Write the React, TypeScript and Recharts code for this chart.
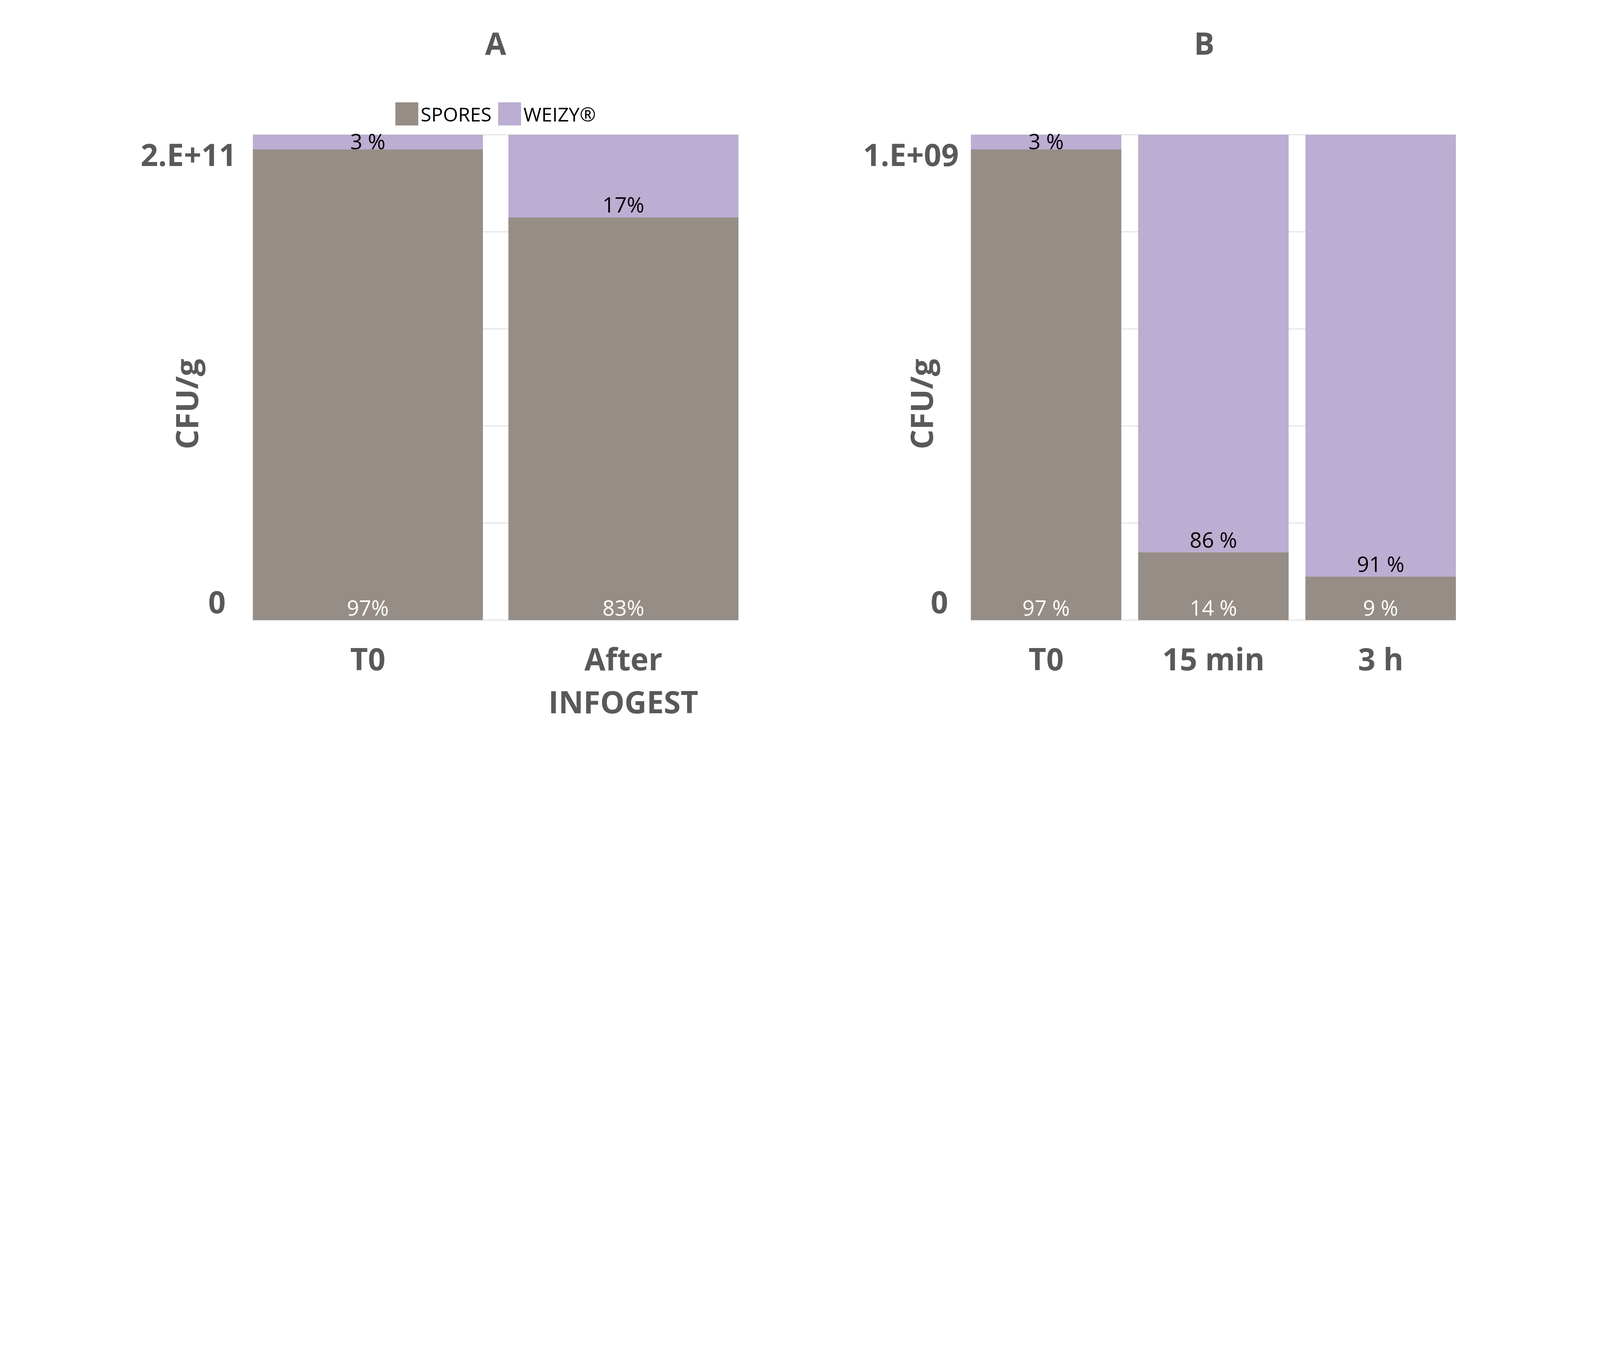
import { BarChart, Bar, XAxis, YAxis, CartesianGrid, Legend, LabelList } from 'recharts'

const seriesNames = ['SPORES', 'WEIZY®']
const seriesColors = ['#958D86', '#BCADD2']

// panel A
const categoriesA = ['T0', 'After INFOGEST']
const sporesA = [97, 83]
const weizyA = [3, 17]
const sporesLabelsA = ['97%', '83%']
const weizyLabelsA = ['3 %', '17%']
const yTickLabelsA = ['0', '2.E+11']

// panel B
const categoriesB = ['T0', '15 min', '3 h']
const sporesB = [97, 14, 9]
const weizyB = [3, 86, 91]
const sporesLabelsB = ['97 %', '14 %', '9 %']
const weizyLabelsB = ['3 %', '86 %', '91 %']
const yTickLabelsB = ['0', '1.E+09']

const gridTicks = [0, 20, 40, 60, 80, 100]

const FONT = "'Open Sans', sans-serif"
const AXIS_GREY = '#595959'

// design is laid out on a 6912 x 3456 canvas, then scaled to the window
const W = 6912
const H = 3456

function buildRows(cats: string[], spores: number[], weizy: number[], sl: string[], wl: string[]) {
  return cats.map((name, i) => ({
    name,
    spores: spores[i],
    weizy: weizy[i],
    sporesLabel: sl[i],
    weizyLabel: wl[i],
  }))
}

const dataA = buildRows(categoriesA, sporesA, weizyA, sporesLabelsA, weizyLabelsA)
const dataB = buildRows(categoriesB, sporesB, weizyB, sporesLabelsB, weizyLabelsB)

function insideBase(fill: string) {
  return (props: any) => {
    const x = Number(props.x)
    const y = Number(props.y)
    const w = Number(props.width)
    const h = Number(props.height)
    const baseline = h < 130 ? y + h / 2 + 32 : y + h - 20
    return (
      <text x={x + w / 2} y={baseline} textAnchor="middle" fill={fill}
        fontSize={92} fontFamily={FONT}>
        {props.value}
      </text>
    )
  }
}

function YTick(props: any) {
  const { x, y, payload, labels, pad } = props
  if (payload.value === 100) {
    return (
      <text x={x - pad - 16} y={y + 135} textAnchor="end" fill={AXIS_GREY}
        fontSize={132} fontWeight={700} fontFamily={FONT}>{labels[1]}</text>
    )
  }
  if (payload.value === 0) {
    return (
      <text x={x - pad - 62} y={y - 30} textAnchor="end" fill={AXIS_GREY}
        fontSize={132} fontWeight={700} fontFamily={FONT}>{labels[0]}</text>
    )
  }
  return <g />
}

function XTick(props: any) {
  const { x, y, payload, wrap } = props
  const lines: string[] = wrap ? String(payload.value).split(' ') : [String(payload.value)]
  return (
    <text textAnchor="middle" fill={AXIS_GREY} fontSize={132} fontWeight={700} fontFamily={FONT}>
      {lines.map((l, i) => (
        <tspan key={i} x={x} y={y + 216 + i * 187}>{l}</tspan>
      ))}
    </text>
  )
}

function AxisTitle(props: any) {
  const { viewBox, dx } = props
  const cx = viewBox.x + viewBox.width + dx
  const cy = viewBox.y + viewBox.height / 2 + 115
  return (
    <text x={cx} y={cy} transform={`rotate(-90, ${cx}, ${cy})`} textAnchor="middle"
      dominantBaseline="central" fill={AXIS_GREY} fontSize={134} fontWeight={700} fontFamily={FONT}>
      CFU/g
    </text>
  )
}

function renderLegend(props: any) {
  const { payload } = props
  return (
    <div style={{ display: 'flex', justifyContent: 'center', gap: 29, fontFamily: FONT }}>
      {payload.map((item: any) => (
        <div key={item.value} style={{ display: 'flex', alignItems: 'center' }}>
          <span style={{ display: 'inline-block', width: 99, height: 100, background: item.color }} />
          <span style={{ fontSize: 84, marginLeft: 10, color: '#000', lineHeight: '100px' }}>{item.value}</span>
        </div>
      ))}
    </div>
  )
}

interface PanelProps {
  data: any[]
  yLabels: string[]
  marginLeft: number
  marginRight: number
  edgePad: number
  titleDx: number
  wrapTicks: boolean
  legend: boolean
}

// the plot area runs from the outer edge of the first bar to the outer edge of the last,
// the band padding is pushed outside with a negative axis padding
function Panel({ data, yLabels, marginLeft, marginRight, edgePad, titleDx, wrapTicks, legend }: PanelProps) {
  const plotLeft = marginLeft + 400
  const plotWidth = 3456 - plotLeft - marginRight
  return (
    <BarChart width={3456} height={3456} data={data} barCategoryGap="5%" barGap={0}
      margin={{ top: 582, right: marginRight, bottom: 177, left: marginLeft }}>
      <CartesianGrid vertical={false} stroke="#d0d0d0" strokeWidth={2.5} />
      <XAxis dataKey="name" height={600} axisLine={false} tickLine={false} tickSize={0} tickMargin={0}
        padding={{ left: -edgePad, right: -edgePad }}
        interval={0} tick={(p: any) => <XTick {...p} wrap={wrapTicks} />} />
      <YAxis width={400} domain={[0, 100]} ticks={gridTicks} axisLine={false} tickLine={false}
        tickSize={0} tickMargin={0} tick={(p: any) => <YTick {...p} labels={yLabels} pad={edgePad} />}
        label={(p: any) => <AxisTitle {...p} dx={titleDx} />} />
      {legend && (
        <Legend layout="horizontal" verticalAlign="middle" align="center" content={renderLegend}
          wrapperStyle={{ top: 442, left: plotLeft, width: plotWidth, height: 100 }} />
      )}
      <Bar dataKey="spores" name={seriesNames[0]} stackId="s" fill={seriesColors[0]} isAnimationActive={false}>
        <LabelList dataKey="sporesLabel" content={insideBase('#ffffff')} />
      </Bar>
      <Bar dataKey="weizy" name={seriesNames[1]} stackId="s" fill={seriesColors[1]} isAnimationActive={false}>
        <LabelList dataKey="weizyLabel" content={insideBase('#000000')} />
      </Bar>
    </BarChart>
  )
}

const titleStyle = {
  position: 'absolute' as const,
  top: 120,
  width: 400,
  textAlign: 'center' as const,
  fontFamily: FONT,
  fontWeight: 700,
  fontSize: 132,
  lineHeight: '132px',
  color: AXIS_GREY,
}

export default function App() {
  const s = typeof window !== 'undefined' && window.innerWidth ? window.innerWidth / W : 1
  return (
    <div style={{ position: 'absolute', left: 0, top: 0, width: W * s, height: H * s, overflow: 'hidden', background: '#fff' }}>
      <div style={{ position: 'relative', width: W, height: H, transform: `scale(${s})`, transformOrigin: '0 0' }}>
        <div style={{ position: 'absolute', left: 0, top: 0 }}>
          <Panel data={dataA} yLabels={yTickLabelsA} marginLeft={693} marginRight={267} edgePad={56}
            titleDx={-290} wrapTicks legend />
        </div>
        <div style={{ position: 'absolute', left: 3456, top: 0 }}>
          <Panel data={dataB} yLabels={yTickLabelsB} marginLeft={338} marginRight={622} edgePad={36}
            titleDx={-216} wrapTicks={false} legend={false} />
        </div>
        <div style={{ ...titleStyle, left: 2141 - 200 }}>A</div>
        <div style={{ ...titleStyle, left: 5202 - 200 }}>B</div>
      </div>
    </div>
  )
}
